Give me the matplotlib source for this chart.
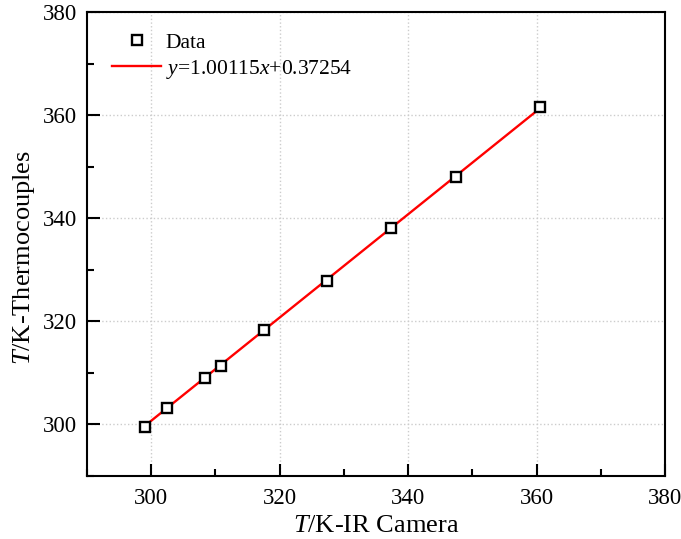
import numpy as np
import matplotlib.pyplot as plt
from matplotlib.ticker import MultipleLocator

# temperatures read by the IR camera vs. thermocouples (K)
t_ir = [299.1, 302.5, 308.3, 310.8, 317.6, 327.4, 337.4, 347.4, 360.6]
t_tc = [299.6, 303.2, 309.0, 311.3, 318.3, 327.9, 338.1, 348.0, 361.5]

slope = 1.00115
intercept = 0.37254

plt.rcParams['font.family'] = ['Liberation Serif', 'DejaVu Serif']
plt.rcParams['mathtext.fontset'] = 'custom'
plt.rcParams['mathtext.rm'] = 'Liberation Serif'
plt.rcParams['mathtext.it'] = 'Liberation Serif:italic'

fig = plt.figure(figsize=(6.81, 5.39), dpi=100)
ax = fig.add_axes([87 / 681, 1 - 476 / 539, 578 / 681, 464 / 539])

x_fit = np.array([t_ir[0], t_ir[-1]])
ax.plot(t_ir, t_tc, 's', ms=7.5, mfc='white', mec='black', mew=1.7,
        linestyle='none', label='Data', zorder=3)
ax.plot(x_fit, slope * x_fit + intercept, color='red', lw=1.7,
        label=r'$y$=1.00115$x$+0.37254', zorder=2)

ax.set_xlim(290, 380)
ax.set_ylim(290, 380)
ax.xaxis.set_major_locator(MultipleLocator(20))
ax.xaxis.set_minor_locator(MultipleLocator(10))
ax.yaxis.set_major_locator(MultipleLocator(20))
ax.yaxis.set_minor_locator(MultipleLocator(10))
ax.tick_params(which='both', direction='in', width=1.5, labelsize=16.5,
               top=False, right=False)
ax.tick_params(axis='x', which='major', pad=9)
ax.tick_params(axis='y', which='major', pad=7)
ax.tick_params(which='major', length=9)
ax.tick_params(which='minor', length=5)
for s in ax.spines.values():
    s.set_linewidth(1.5)

ax.grid(True, which='major', linestyle=':', color='#cccccc', lw=1)
ax.set_axisbelow(True)

ax.set_xlabel(r'$T$/K-IR Camera', fontsize=19)
ax.set_ylabel(r'$T$/K-Thermocouples', fontsize=19)
ax.xaxis.set_label_coords(0.5, -0.083)
ax.yaxis.set_label_coords(-0.087, 0.47)

ax.legend(loc='upper left', bbox_to_anchor=(0, 1.009), frameon=False,
          fontsize=15.5, handlelength=2.3, borderaxespad=0.75,
          handletextpad=0.2, labelspacing=0.25)

fig.savefig('out.png', dpi=100)
